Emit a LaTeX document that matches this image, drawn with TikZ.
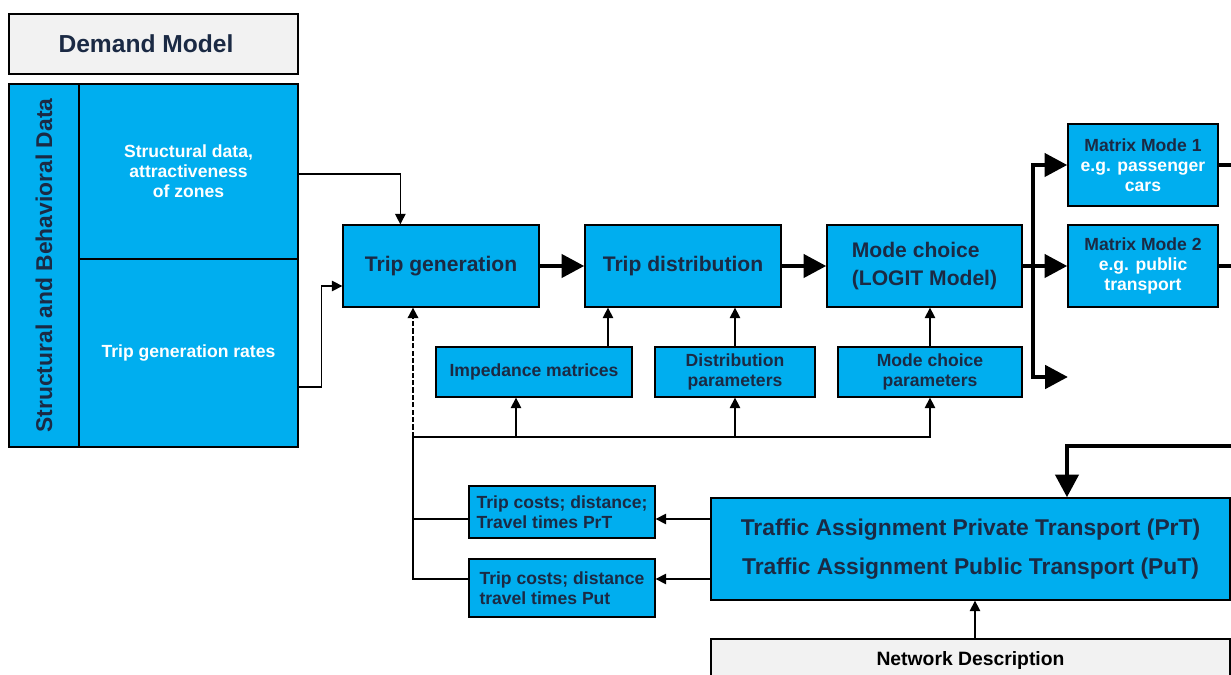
\documentclass[tikz,border=0pt]{standalone}
\usepackage{fontspec}
\setmainfont{Liberation Sans}
\usetikzlibrary{arrows.meta}
\definecolor{vblue}{RGB}{0,174,239}
\definecolor{navy}{RGB}{27,42,68}
\definecolor{lightgrey}{RGB}{242,242,242}

\begin{document}
\begin{tikzpicture}[x=0.02cm,y=-0.02cm,
    box/.style={draw=black,fill=vblue,line width=0.75pt,inner sep=0pt,align=center,
      text=navy,font=\bfseries\fontsize{10}{11.5}\selectfont},
    greybox/.style={box,fill=lightgrey},
    mainbox/.style={box,minimum width=3.92cm,minimum height=1.64cm,font=\bfseries\fontsize{12}{16}\selectfont},
    arr/.style={line width=0.75pt,-{Triangle[width=6pt,length=6pt]}},
    bigline/.style={line width=2.8pt},
    bigarr/.style={bigline,-{Triangle[width=13pt,length=13pt]}}]
  \useasboundingbox (0,0) rectangle (1231,675);

  % demand side
  \node[greybox,minimum width=5.78cm,minimum height=1.2cm,font=\bfseries\fontsize{14}{16}\selectfont] (demand) at (153.5,44) {\raisebox{-0.08cm}{Demand Model\hspace{0.3cm}}};
  \node[box,minimum width=1.4cm,minimum height=7.26cm] (strip) at (44,265.5) {};
  \node[rotate=90,text=navy,font=\bfseries\fontsize{13}{15}\selectfont] (striplabel) at (strip.center) {Structural and Behavioral Data};
  \node[box,text=white,minimum width=4.38cm,minimum height=3.5cm] (structdata) at (188.5,171.5) {Structural data,\\attractiveness\\of zones};
  \node[box,text=white,minimum width=4.38cm,minimum height=3.76cm] (genrates) at (188.5,353) {Trip generation rates};

  % main chain
  \node[mainbox] (tripgen) at (441,266) {Trip generation};
  \node[mainbox] (tripdist) at (683,266) {Trip distribution};
  \node[mainbox,minimum width=3.9cm,align=left] (modechoice) at (924.5,266) {Mode choice\\(LOGIT Model)};
  \node[box,minimum width=3cm,minimum height=1.64cm] (mat1) at (1143,165) {Matrix Mode 1\\{\color{white}e.g. passenger}\\{\color{white}cars}};
  \node[box,minimum width=3cm,minimum height=1.64cm] (mat2) at (1143,266) {Matrix Mode 2\\{\color{white}e.g. public}\\{\color{white}transport}};

  % parameters
  \node[box,minimum width=3.92cm,minimum height=1cm] (imped) at (534,372) {Impedance matrices};
  \node[box,minimum width=3.2cm,minimum height=1cm] (distpar) at (735,372) {Distribution\\parameters};
  \node[box,minimum width=3.68cm,minimum height=1cm] (modepar) at (930,372) {Mode choice\\parameters};

  % supply side
  \node[box,minimum width=3.72cm,minimum height=1.04cm,align=left] (costprt) at (562,512) {Trip costs; distance;\\Travel times PrT};
  \node[box,minimum width=3.72cm,minimum height=1.16cm,align=left] (costput) at (562,588) {Trip costs; distance\\travel times Put};
  \node[box,minimum width=10.38cm,minimum height=2.04cm,font=\bfseries\fontsize{13}{22}\selectfont] (assign) at (970.5,549) {Traffic Assignment Private Transport (PrT)\\Traffic Assignment Public Transport (PuT)};
  \node[greybox,minimum width=10.38cm,minimum height=0.88cm,text=black,font=\bfseries\fontsize{11}{13}\selectfont] (netdesc) at (970.5,661) {Network Description};

  \coordinate (fork) at (1033,266);
  \coordinate (free) at (1068,377);
  \coordinate (rim) at (1231,446);
  \coordinate (junc) at (413,437);
  \coordinate (prtin) at ([yshift=-0.14cm]costprt.east);
  \coordinate (putin) at ([yshift=0.18cm]costput.east);

  % connectors
  \draw[arr] ([yshift=-0.05cm]structdata.east) -| ([xshift=1.16cm]tripgen.north west);
  \draw[arr] ([yshift=-0.68cm]genrates.east) -- ++(0.46cm,0) |- ([yshift=-0.4cm]tripgen.west);
  \draw[bigarr] (tripgen) -- (tripdist);
  \draw[bigarr] (tripdist) -- (modechoice);
  \draw[bigarr] (modechoice) -- (mat2);
  \draw[bigarr] (fork) |- (mat1.west);
  \draw[bigarr] (fork) |- (free);
  \draw[bigline] (mat1.east) -- (mat1.east -| rim);
  \draw[bigline] (mat2.east) -- (mat2.east -| rim);
  \draw[bigarr] (rim) -| ([xshift=1.93cm]assign.north);
  \draw[arr] ([xshift=1.48cm]imped.north) -- ([xshift=1.48cm]imped.north |- tripdist.south);
  \draw[arr] (distpar.north) -- (distpar.north |- tripdist.south);
  \draw[arr] (modepar.north) -- (modepar.north |- modechoice.south);
  \draw[arr] (assign.west |- prtin) -- (prtin);
  \draw[arr] (assign.west |- putin) -- (putin);
  \draw[line width=0.75pt] ([yshift=-0.14cm]costprt.west) -| (junc);
  \draw[line width=0.75pt] ([yshift=0.18cm]costput.west) -| (junc);
  \draw[arr] (junc) -| ([xshift=-0.36cm]imped.south);
  \draw[arr] (junc) -| (distpar.south);
  \draw[arr] (junc) -| (modepar.south);
  \draw[arr,line width=1.1pt,dash pattern=on 3pt off 1.2pt] (junc) -- (junc |- tripgen.south);
  \draw[arr] ([xshift=0.09cm]netdesc.north) -- ([xshift=0.09cm]netdesc.north |- assign.south);
\end{tikzpicture}
\end{document}
